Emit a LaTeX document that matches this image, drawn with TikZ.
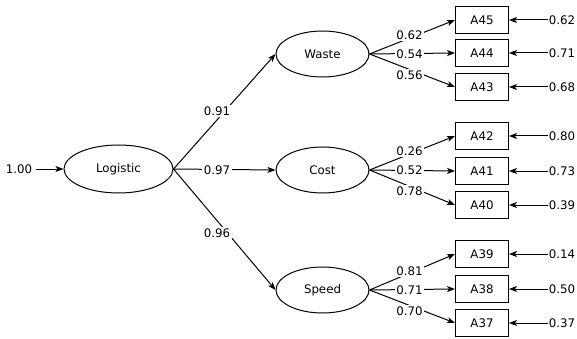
\documentclass[tikz,border=0pt]{standalone}
\usepackage{fontspec}
\setmainfont{DejaVu Sans}
\usetikzlibrary{arrows.meta,shapes.geometric}
\begin{document}
\begin{tikzpicture}[x=1pt,y=-1pt,
  every node/.style={font=\fontsize{11.8}{13}\selectfont},
  latent/.style={draw,ellipse,line width=1pt,minimum width=93pt,minimum height=46pt,inner sep=0pt},
  root/.style={latent,minimum width=109pt,minimum height=48pt},
  item/.style={draw,rectangle,line width=1pt,minimum width=53pt,minimum height=27pt,inner sep=0pt},
  arr/.style={line width=1pt,-{Stealth[length=8pt,width=6pt,inset=2pt]}},
  wt/.style={fill=white,inner sep=1.5pt},
  val/.style={inner sep=1pt}]
\useasboundingbox (0,0) rectangle (577,339);

% factor structure
\node[root] (log) at (118.5,169) {Logistic};
\node[latent] (waste) at (322.5,54) {Waste};
\node[latent] (cost) at (322.5,170) {Cost};
\node[latent] (speed) at (322.5,290) {Speed};

\node[val] (e0) at (19,169) {1.00};
\draw[arr] (e0.east) ++(3,0) -- (log.west);

\draw[arr] (log.east) -- (waste.west);
\draw[arr] (log.east) -- (cost.west);
\draw[arr] (log.east) -- (speed.west);
\node[wt] (l1) at (217,111) {0.91};
\node[wt] (l2) at (217,170) {0.97};
\node[wt] (l3) at (217,233) {0.96};

% indicators with their error terms
\foreach \nm/\yy/\ev in {A45/20/0.62, A44/53/0.71, A43/87/0.68,
                         A42/136/0.80, A41/171/0.73, A40/205/0.39,
                         A39/254/0.14, A38/289/0.50, A37/323/0.37}{
  \node[item] (\nm) at (482,\yy) {\nm};
  \node[val] (e\nm) at (562,\yy) {\ev};
  \draw[arr] (e\nm.west) -- (\nm.east);
}

% loadings
\foreach \lat/\nm/\ld/\dy in {waste/A45/0.62/-19, waste/A44/0.54/0, waste/A43/0.56/21,
                              cost/A42/0.26/-19, cost/A41/0.52/0, cost/A40/0.78/21,
                              speed/A39/0.81/-19, speed/A38/0.71/0, speed/A37/0.70/21}{
  \draw[arr] (\lat.east) -- (\nm.west);
  \node[wt] (w\nm) at ([shift={(40,\dy)}]\lat.east) {\ld};
}
\end{tikzpicture}
\end{document}
